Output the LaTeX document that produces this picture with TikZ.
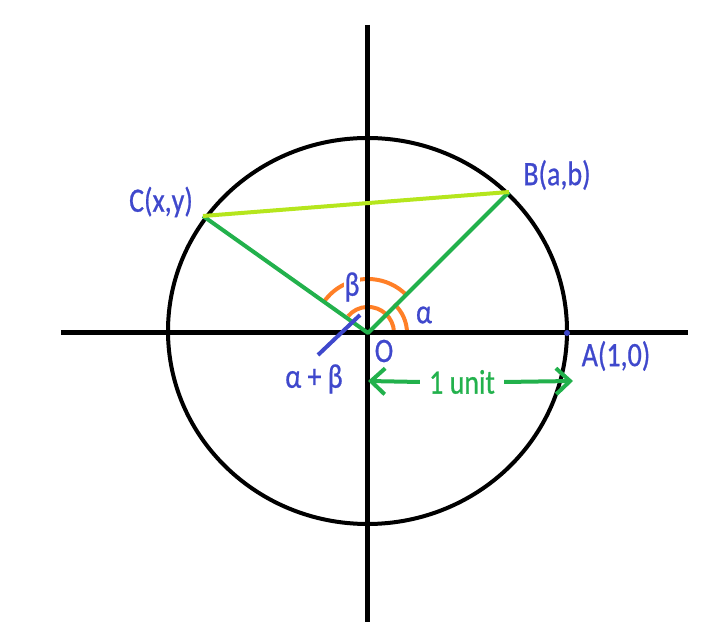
\documentclass[tikz,border=0pt]{standalone}
\usepackage{fontspec}
\usepackage{graphicx}
\setmainfont{Carlito}
\newfontfamily\lblfont{Carlito}[FakeBold=0.8]
\usetikzlibrary{arrows.meta}
\definecolor{pblue}{HTML}{3F48CC}
\definecolor{pgreen}{HTML}{22B14C}
\definecolor{plime}{HTML}{B5E61D}
\definecolor{porange}{HTML}{FF7F27}
\newcommand{\tallbox}[1]{\scalebox{1}[1.22]{#1}}
\begin{document}
\begin{tikzpicture}[x=1pt,y=1pt,
  axisline/.style={line width=5pt,black},
  rim/.style={line width=4pt,black},
  radiusline/.style={line width=4pt,pgreen},
  chordline/.style={line width=4pt,plime},
  anglearc/.style={line width=4pt,porange},
  sumline/.style={line width=4pt,pblue},
  lbl/.style={font=\lblfont\fontsize{28}{30}\selectfont,text=pblue,inner sep=1pt},
  unitlbl/.style={font=\lblfont\fontsize{28}{30}\selectfont,text=pgreen,inner ysep=1pt,inner xsep=9pt},
  unitarrow/.style={line width=4pt,pgreen,-{Straight Barb[length=14pt,width=26pt]}}
]
\useasboundingbox (-368,-311) rectangle (352,333);
% key points
\coordinate (O) at (0,0);
\coordinate (B) at (141,141);
\coordinate (C) at (-165,117);
\coordinate (A) at (199,0);
\coordinate (Ytop) at (0,308);
\coordinate (Ybot) at (0,-289);
\coordinate (Xl) at (-307,0);
\coordinate (Xr) at (320,0);
\coordinate (Cc) at (-0.5,2);
% angle arcs
\draw[anglearc] (39,0) arc[start angle=0,end angle=48,radius=39];
\draw[anglearc] (26,1) arc[start angle=2,end angle=140,radius=26];
\draw[anglearc] (145:54) arc[start angle=145,end angle=45,radius=54];
% axes and circle
\draw[axisline] (Xl) -- (Xr);
\draw[axisline] (Ytop) -- (Ybot);
\draw[rim] (Cc) ellipse[x radius=199.5,y radius=193];
% radii and chord
\draw[radiusline,line join=round] (C) -- (O) -- (B);
\draw[chordline] (C) -- (B);
% alpha+beta pointer
\coordinate (S1) at (-8,18);
\coordinate (S2) at (-50,-22);
\draw[sumline] (S1) -- (S2);
% point A
\fill[pblue] (A) circle[radius=3];
% labels
\node[lbl] (lC) at (-207,131) {\tallbox{C(x,y)}};
\node[lbl] (lB) at (189,158) {\tallbox{B(a,b)}};
\node[lbl] (lA) at (248,-23) {\tallbox{A(1,0)}};
\node[lbl] (lO) at (16,-18) {\tallbox{O}};
\node[lbl,fill=white] (lbeta) at (-16,46) {\tallbox{β}};
\node[lbl] (lalpha) at (56,18) {\tallbox{α}};
\node[lbl] (lsum) at (-54,-46) {\tallbox{α + β}};
% 1 unit
\node[unitlbl] (unit) at (94,-49) {\tallbox{1 unit}};
\coordinate (Lt) at (0,-48);
\coordinate (Rt) at (205,-48);
\draw[unitarrow] (unit.west) -- (Lt);
\draw[unitarrow] (unit.east) -- (Rt);
\end{tikzpicture}
\end{document}
